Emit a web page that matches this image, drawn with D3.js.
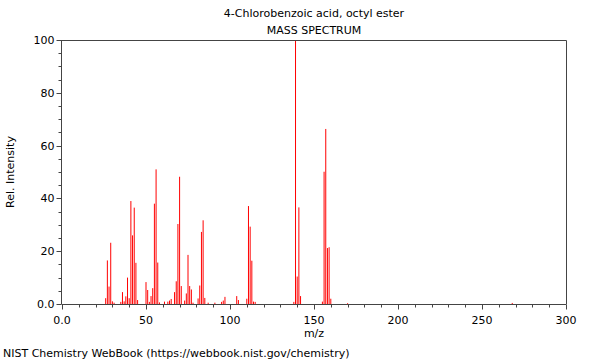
<!DOCTYPE html>
<html><head><meta charset="utf-8">
<script src="https://cdn.jsdelivr.net/npm/d3@7"></script>
<style>body{margin:0;background:#fff}svg{display:block}text{font-family:"DejaVu Sans",sans-serif;fill:#000}</style>
</head><body>
<svg id="c" width="600" height="360"></svg>
<script>
const title = "4-Chlorobenzoic acid, octyl ester";
const subtitle = "MASS SPECTRUM";
const xLabel = "m/z";
const yLabel = "Rel. Intensity";
const footer = "NIST Chemistry WebBook (https://webbook.nist.gov/chemistry)";
const mz = [26,27,28,29,30,31,35,36,37,38,39,40,41,42,43,44,45,
  50,51,52,53,54,55,56,57,58,61,63,64,65,67,68,69,70,71,73,74,75,76,77,78,
  81,82,83,84,85,87,91,95,96,97,104,105,110,111,112,113,114,115,
  138,139,140,141,142,155,156,157,158,159,160,170,268];
const intensity = [2.2,16.5,6.6,23.2,1,0.5,0.8,4.5,1,2.9,10,2.2,39,26,36.5,15.6,1.5,
  8.3,5.3,0.8,3,6,38,51,15.7,0.6,0.9,0.9,1.3,1.9,4.5,8.6,30.3,48.2,6.8,1.3,4,18.6,6.8,5.5,0.5,
  2.1,7,27.3,31.7,2.3,0.5,0.5,0.8,1.3,2.7,3,1.5,2,37.1,29.3,16.4,0.9,0.8,
  0.8,100,10.4,36.6,3,0.9,50.1,66.3,21.2,21.5,2,0.3,0.4];
const xTicks = [0,50,100,150,200,250,300];
const yTicks = [0,20,40,60,80,100];

const svg = d3.select("#c");
const L=62,R=566,T=40,B=304;
const x = d3.scaleLinear().domain([0,300]).range([L,R]);
const y = d3.scaleLinear().domain([0,100]).range([B,T]);
const axisCol = "#444";

// bars
svg.append("g").selectAll("line").data(mz).join("line")
  .attr("x1",(d)=>x(d)).attr("x2",(d)=>x(d))
  .attr("y1",y(0)).attr("y2",(d,i)=>y(intensity[i]))
  .attr("stroke","#ff0000").attr("stroke-width",1);

// box top/right
svg.append("path").attr("d",`M${L},${T+0.5}H${R+0.5}V${B}`).attr("fill","none").attr("stroke",axisCol);

// x axis
const xa = svg.append("g").attr("transform",`translate(0,${B+0.5})`);
xa.append("line").attr("x1",L).attr("x2",R+0.5).attr("stroke",axisCol);
xa.selectAll("line.mn").data(d3.range(0,301,10)).join("line").attr("class","mn")
  .attr("x1",d=>Math.round(x(d))+0.5).attr("x2",d=>Math.round(x(d))+0.5)
  .attr("y1",0).attr("y2",d=>d%50===0?5:3).attr("stroke",axisCol);
xa.selectAll("text").data(xTicks).join("text")
  .attr("x",d=>x(d)).attr("y",19).attr("text-anchor","middle").attr("font-size",11)
  .text(d=>d===0?"0.0":d);

// y axis
const ya = svg.append("g").attr("transform",`translate(${L-0.5},0)`);
ya.append("line").attr("y1",T).attr("y2",B+0.5).attr("stroke",axisCol);
ya.selectAll("line.mn").data(d3.range(0,101,5)).join("line").attr("class","mn")
  .attr("y1",d=>Math.round(y(d))+0.5).attr("y2",d=>Math.round(y(d))+0.5)
  .attr("x1",0).attr("x2",d=>d%20===0?-5:-3).attr("stroke",axisCol);
ya.selectAll("text").data(yTicks).join("text")
  .attr("x",-7).attr("y",d=>y(d)+4).attr("text-anchor","end").attr("font-size",11)
  .text(d=>d===0?"0.0":d);

svg.append("text").attr("x",314).attr("y",17).attr("text-anchor","middle").attr("font-size",11).text(title);
svg.append("text").attr("x",314).attr("y",34).attr("text-anchor","middle").attr("font-size",11).text(subtitle);
svg.append("text").attr("x",314).attr("y",337).attr("text-anchor","middle").attr("font-size",11).text(xLabel);
svg.append("text").attr("transform",`translate(14,172) rotate(-90)`).attr("text-anchor","middle").attr("font-size",11).text(yLabel);
svg.append("text").attr("x",3).attr("y",357).attr("font-size",11).text(footer);
</script>
</body></html>
